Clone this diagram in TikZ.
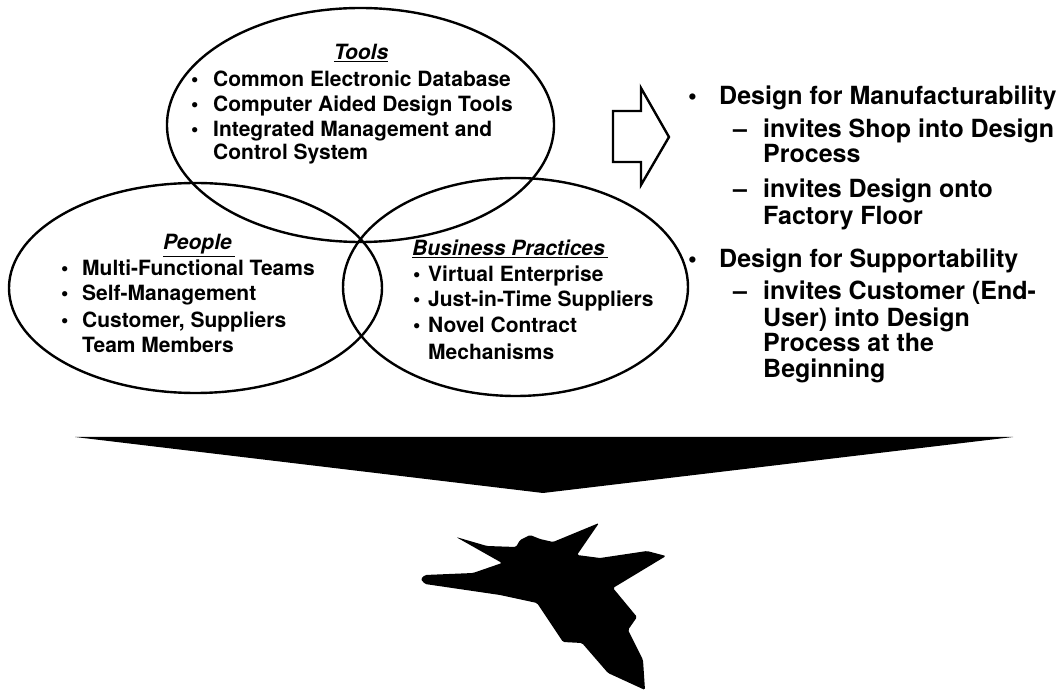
\documentclass[tikz,border=0pt]{standalone}
\usepackage{fontspec}
\setmainfont{TeX Gyre Heros}
\usetikzlibrary{shapes.geometric}
\begin{document}
\begin{tikzpicture}[x=1pt,y=-1pt,
  ring/.style={draw, ellipse, line width=2.4pt, inner sep=0pt, outer sep=0pt},
  item/.style={anchor=base west, inner sep=0pt, font=\fontsize{21}{25}\selectfont\bfseries},
  head/.style={anchor=base, inner sep=0pt, font=\fontsize{21}{25}\selectfont\bfseries\itshape},
  point/.style={anchor=base west, inner sep=0pt, font=\fontsize{25}{27}\selectfont\bfseries},
]
\useasboundingbox[fill=white] (0,0) rectangle (1061,692);

% three overlapping circles of the concept
\node[ring, minimum width=387pt, minimum height=234pt] (tools) at (360.5,125) {};
\node[ring, minimum width=373pt, minimum height=210pt] (people) at (195.5,288) {};
\node[ring, minimum width=345pt, minimum height=218pt] (business) at (515.5,287) {};

% Tools
\node[head] (toolsT) at (361,60) {\underline{Tools}};
\node[item] (tb1) at (191,87) {\textbullet};
\node[item] (t1) at (213,87) {Common Electronic Database};
\node[item] (tb2) at (191,112) {\textbullet};
\node[item] (t2) at (213,112) {Computer Aided Design Tools};
\node[item] (tb3) at (191,137) {\textbullet};
\node[item] (t3) at (213,137) {Integrated Management and};
\node[item] (t3b) at (213,160) {Control System};

% People
\node[head] (peopleT) at (199,250) {\underline{People\hspace{3pt}}};
\node[item] (pb1) at (61,276) {\textbullet};
\node[item] (p1) at (82,276) {Multi-Functional Teams};
\node[item] (pb2) at (61,301) {\textbullet};
\node[item] (p2) at (82,301) {Self-Management};
\node[item] (pb3) at (61,328) {\textbullet};
\node[item] (p3) at (82,328) {Customer, Suppliers};
\node[item] (p3b) at (82,353) {Team Members};

% Business Practices
\node[item, font=\fontsize{21}{25}\selectfont\bfseries\itshape] (busT) at (412,256) {\underline{Business Practices\hspace{3pt}}};
\node[item] (bb1) at (413,282) {\textbullet};
\node[item] (b1) at (428,282) {Virtual Enterprise};
\node[item] (bb2) at (413,307) {\textbullet};
\node[item] (b2) at (428,307) {Just-in-Time Suppliers};
\node[item] (bb3) at (413,333) {\textbullet};
\node[item] (b3) at (428,333) {Novel Contract};
\node[item] (b3b) at (428,360) {Mechanisms};

% hollow block arrow towards the results
\draw[line width=2.4pt, line join=miter]
  (613,111) -- (641,111) -- (641,88) -- (669,137) -- (641,185) -- (641,162) -- (613,162) -- cycle;

% results
\node[point] (rb1) at (688,105) {\textbullet};
\node[point] (r1) at (719,105) {Design for Manufacturability};
\node[point] (rd1) at (733,138) {--};
\node[point] (r11) at (763,138) {invites Shop into Design};
\node[point] (r11b) at (763,163) {Process};
\node[point] (rd2) at (733,198) {--};
\node[point] (r12) at (763,198) {invites Design onto};
\node[point] (r12b) at (763,225) {Factory Floor};
\node[point] (rb2) at (688,268) {\textbullet};
\node[point] (r2) at (719,268) {Design for Supportability};
\node[point] (rd3) at (733,300) {--};
\node[point] (r21) at (763,300) {invites Customer (End-};
\node[point] (r21b) at (763,327) {User) into Design};
\node[point] (r21c) at (763,352) {Process at the};
\node[point] (r21d) at (763,378) {Beginning};

% wide solid down arrow
\fill (75,437) -- (1013,437) -- (543,493) -- cycle;

% aircraft silhouette
\fill[rounded corners=1.5pt]
  (420.7,579) -- (425,575) -- (473,573) -- (502,563) -- (456,537) -- (487,546)
  -- (516,547) -- (520,540) -- (530,535) -- (540,539) -- (553,542) -- (599,523)
  -- (577,555) -- (600,558) -- (647,551) -- (666,556) -- (613,588) -- (637,617)
  -- (628,630) -- (643,660) -- (645,690) -- (608,673) -- (582,643) -- (563,642)
  -- (537,603) -- (500,595) -- (425,584) -- cycle;
\end{tikzpicture}
\end{document}
